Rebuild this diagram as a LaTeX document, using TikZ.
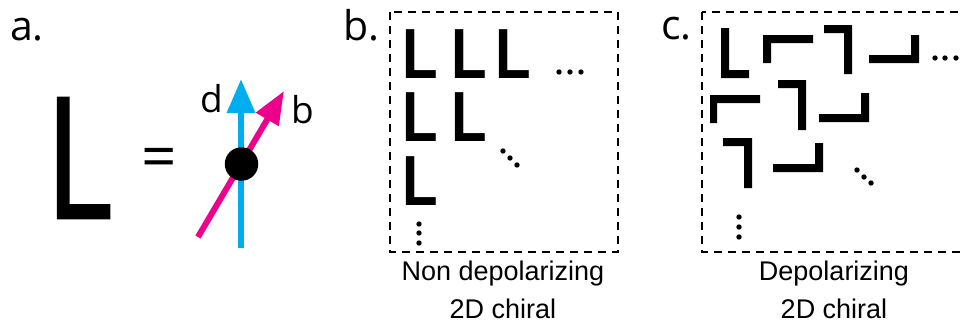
\documentclass[tikz,border=0pt]{standalone}
\usepackage{fontspec}
\usetikzlibrary{arrows.meta}
\newfontfamily\arialfont{Liberation Sans}
\newfontfamily\humanistfont{Open Sans}
\newfontfamily\heavyfont[FakeBold=1.6]{Open Sans}
\definecolor{dircyan}{RGB}{0,174,239}
\definecolor{bondmag}{RGB}{236,0,140}
\tikzset{
  panellabel/.style={font=\humanistfont\fontsize{41}{41}\selectfont, anchor=base west, inner sep=0pt},
  veclabel/.style={font=\humanistfont\fontsize{37}{37}\selectfont, anchor=base, inner sep=0pt},
  tile/.style={font=\arialfont\bfseries\fontsize{71}{71}\selectfont, anchor=base west, inner sep=0pt},
  caption/.style={font=\arialfont\fontsize{27}{38}\selectfont, align=center, anchor=north, inner sep=0pt},
  frame/.style={draw, line width=2pt, dash pattern=on 8pt off 6pt},
  brick/.style={fill=black},
  dotmark/.style={fill=black},
  dirvec/.style={draw=dircyan, line width=6.5pt, -{Triangle[length=34pt,width=27pt]}},
  bondvec/.style={draw=bondmag, line width=6pt, -{Triangle[length=33pt,width=25pt]}},
  site/.style={circle, fill=black, minimum size=33.5pt, inner sep=0pt},
}
\begin{document}
\begin{tikzpicture}[x=1pt,y=-1pt]
\clip (0,0) rectangle (964,324);

% ---------------- panel a: one chiral unit ----------------
\node[panellabel] (la) at (10,40) {a.};
\node[anchor=base west, inner sep=0pt, font=\heavyfont\fontsize{168}{168}\selectfont]
  (bigL) at (45,218) {\scalebox{0.77}[1]{L}};
\node[inner sep=0pt, font=\humanistfont\fontsize{62}{62}\selectfont] (eq) at (159,163) {=};

\coordinate (dtail) at (241,248);
\coordinate (dtip) at (241,79);
\coordinate (btail) at (198,237);
\coordinate (btip) at (284,91);
\draw[dirvec] (dtail) -- (dtip);
\draw[bondvec] (btail) -- (btip);
\node[site] (center) at (241.5,164) {};
\node[veclabel] (dlab) at (211.5,112) {d};
\node[veclabel] (blab) at (303,123) {b};

% ---------------- panel b: aligned units ----------------
\node[panellabel] (lb) at (343,40) {b.};
\draw[frame] (390,12) rectangle (618,252);
\foreach \px/\py/\nm in {406/78/b11, 455/78/b12, 499/78/b13,
                         406/141/b21, 455/141/b22,
                         406/205/b31}
  \node[tile] (\nm) at (\px-4,\py) {\scalebox{0.82}[1]{L}};
\foreach \px/\py in {559/72, 570/72, 581/72,
                     503/151, 510/158, 517/165,
                     419/224, 419/233, 419/243}
  \fill[dotmark] (\px,\py) circle (2.7);
\node[caption] (capb) at (503,261) {Non depolarizing\\2D chiral};

% ---------------- panel c: randomly oriented units ----------------
\node[panellabel] (lc) at (661,39) {c.};
\draw[frame] (702,12) rectangle (975,252);
% each unit is drawn as its two arms
\fill[brick] (721,28) rectangle (729,78)   (721,70) rectangle (749,78);
\fill[brick] (763,35) rectangle (813,43)   (763,35) rectangle (771,63);
\fill[brick] (824,25) rectangle (852,33)   (844,25) rectangle (852,74);
\fill[brick] (869,55) rectangle (919,63)   (911,35) rectangle (919,63);
\fill[brick] (710,95) rectangle (717,123)  (710,95) rectangle (760,103);
\fill[brick] (778,80) rectangle (806,88)   (798,80) rectangle (806,130);
\fill[brick] (819,114) rectangle (869,122) (861,93) rectangle (869,122);
\fill[brick] (723,138) rectangle (752,146) (744,138) rectangle (752,188);
\fill[brick] (773,164) rectangle (823,172) (815,143) rectangle (823,172);
\foreach \px/\py in {935/58, 945/58, 956/58,
                     857/170, 864/177, 871/183,
                     739/217, 739/227, 739/237}
  \fill[dotmark] (\px,\py) circle (2.7);
\node[caption] (capc) at (834,261) {Depolarizing\\2D chiral};
\end{tikzpicture}
\end{document}
